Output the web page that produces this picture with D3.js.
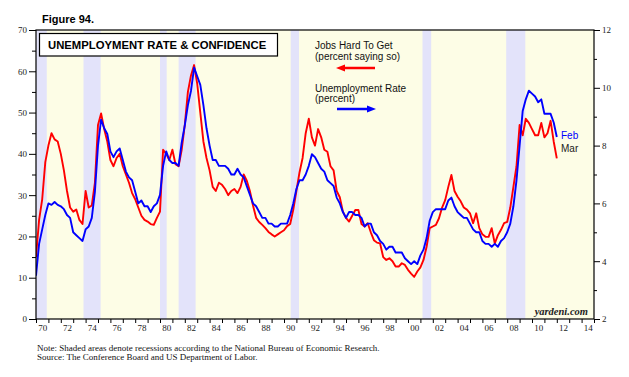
<!DOCTYPE html>
<html>
<head>
<meta charset="utf-8">
<script src="https://cdn.jsdelivr.net/npm/d3@7/dist/d3.min.js"></script>
<style>
  body { margin: 0; background: #fff; }
  .ax text { font-family: "Liberation Serif", "Times New Roman", serif; font-size: 9px; fill: #222; }
  .ax line { stroke: #000; }
  .ax path { display: none; }
</style>
</head>
<body>
<script>
// quarterly observations, first one is Q1 1970, last one Q1 2012
var startYear = 1970;

// Jobs Hard To Get (percent saying so), left axis
var jobsHardToGet = [
  15, 24, 29, 38,      42, 45, 43.5, 43,    40, 36, 31, 27,      26, 26.5, 24, 23,
  31, 27, 27.5, 33,    47, 49.8, 46, 43,    38.5, 37, 39, 40,    37, 35, 33, 30.5,
  29, 27, 25, 24,      23.6, 23, 22.8, 24.5, 26, 41, 40, 38.5,  41, 37.5, 37, 41,
  47, 55, 59, 61.5,    57, 50, 43, 39,      36, 32, 31, 33,      32.5, 31.5, 30, 31,
  31.5, 30.5, 32, 35,  33.5, 31, 27.5, 24.5, 23.5, 22.8, 22, 21.1, 20.5, 20, 20.5, 21,
  21.5, 22.5, 23, 26.5, 31, 35.5, 39, 45,   48.5, 44, 42, 46,    44, 41, 40.5, 37,
  36, 31, 29.5, 26,    24.5, 23.6, 25, 26.4, 26.4, 23, 22.4, 23.2, 21, 19.1, 18.5, 18.3,
  15, 14.3, 14.7, 14,  12.7, 12.7, 13.5, 13.1, 11.9, 11, 10.2, 11.5, 12.5, 14.3, 17.5, 22,
  22.4, 22.8, 24.4, 27, 28.8, 32, 34.9, 31, 29.6, 28.5, 27, 26.5, 25.6, 23.2, 25.6, 22,
  20.5, 19.9, 19.9, 22, 18.3, 20.3, 21.6, 23.2, 23.5, 27, 32, 37, 47, 44.5, 48.5, 47.5,
  46, 44.5, 44.5, 47.5, 44, 45, 48, 43,    38.9
];

// Unemployment Rate (percent), right axis
var unemploymentRate = [
  3.5, 4.6, 5.1, 5.6,  6.0, 5.95, 6.05, 5.95, 5.9, 5.8, 5.6, 5.5, 5.0, 4.9, 4.8, 4.7,
  5.1, 5.2, 5.5, 6.4,  8.0, 8.9, 8.6, 8.4,  7.8, 7.6, 7.8, 7.9,  7.5, 7.1, 6.9, 6.8,
  6.4, 6.0, 6.1, 5.9,  5.9, 5.7, 5.9, 6.0,  6.3, 7.3, 7.8, 7.5,  7.4, 7.4, 7.3, 8.1,
  8.7, 9.4, 9.9, 10.7, 10.4, 10.1, 9.4, 8.6, 8.0, 7.5, 7.5, 7.3, 7.3, 7.3, 7.2, 7.0,
  7.0, 7.2, 7.0, 6.9,  6.6, 6.3, 6.0, 5.9,  5.7, 5.5, 5.5, 5.3,  5.3, 5.2, 5.2, 5.3,
  5.3, 5.3, 5.6, 6.0,  6.5, 6.8, 6.8, 7.0,  7.3, 7.7, 7.6, 7.4,  7.2, 7.1, 6.8, 6.7,
  6.6, 6.2, 6.0, 5.7,  5.5, 5.7, 5.7, 5.6,  5.6, 5.5, 5.2, 5.3,  5.3, 5.0, 4.9, 4.7,
  4.6, 4.4, 4.5, 4.5,  4.3, 4.3, 4.3, 4.1,  4.0, 3.9, 4.0, 3.9,  4.2, 4.4, 4.8, 5.4,
  5.7, 5.8, 5.8, 5.8,  5.8, 6.1, 6.2, 5.9,  5.7, 5.6, 5.5, 5.5,  5.3, 5.1, 5.0, 5.0,
  4.7, 4.6, 4.6, 4.5,  4.6, 4.5, 4.7, 4.8,  5.0, 5.3, 5.9, 6.8,  8.0, 9.2, 9.6, 9.9,
  9.8, 9.7, 9.5, 9.6,  9.1, 9.1, 9.1, 8.8,  8.3
];

// NBER recessions [start, end] in decimal years
var recessions = [
  [1969.92, 1970.87], [1973.83, 1975.21], [1980.0, 1980.54], [1981.5, 1982.87],
  [1990.54, 1991.21], [2001.17, 2001.87], [2007.92, 2009.46]
];

var leftMajor = [0, 10, 20, 30, 40, 50, 60, 70];
var leftMinor = [5, 15, 25, 35, 45, 55, 65];
var rightMajor = [2, 4, 6, 8, 10, 12];
var rightMinor = [3, 5, 7, 9, 11];
var yearTicks = d3.range(1970, 2016);
var yearLabels = d3.range(1970, 2015, 2);

var svgWidth = 629;
var svgHeight = 377;
var margin = { top: 30, right: 35, bottom: 58, left: 36 };
var width = svgWidth - margin.left - margin.right;
var height = svgHeight - margin.top - margin.bottom;

var svg = d3.select("body")
  .append("svg")
  .attr("width", svgWidth)
  .attr("height", svgHeight);

var x = d3.scaleLinear().domain([1970, 2015]).range([0, width]);
var yLeft = d3.scaleLinear().domain([0, 70]).range([height, 0]);
var yRight = d3.scaleLinear().domain([2, 12]).range([height, 0]);

var chartGroup = svg.append("g")
  .attr("transform", `translate(${margin.left}, ${margin.top})`);

svg.append("defs").append("clipPath").attr("id", "plot")
  .append("rect").attr("width", width).attr("height", height);

// background and recession bands
chartGroup.append("rect")
  .attr("width", width).attr("height", height)
  .attr("fill", "#fdfde6");

chartGroup.append("g").attr("clip-path", "url(#plot)")
  .selectAll("rect").data(recessions).enter()
  .append("rect")
  .attr("x", d => x(d[0]))
  .attr("width", d => x(d[1]) - x(d[0]))
  .attr("y", 0).attr("height", height)
  .attr("fill", "#e3e3fa");

// lines
var lineLeft = d3.line()
  .x((d, i) => x(startYear + i / 4))
  .y(d => yLeft(d));
var lineRight = d3.line()
  .x((d, i) => x(startYear + i / 4))
  .y(d => yRight(d));

var lines = chartGroup.append("g").attr("clip-path", "url(#plot)");
lines.append("path").datum(jobsHardToGet)
  .attr("d", lineLeft).attr("fill", "none")
  .attr("stroke", "#ff0000").attr("stroke-width", 1.9).attr("stroke-linejoin", "round");
lines.append("path").datum(unemploymentRate)
  .attr("d", lineRight).attr("fill", "none")
  .attr("stroke", "#0000ff").attr("stroke-width", 1.9).attr("stroke-linejoin", "round");

// frame
chartGroup.append("rect")
  .attr("width", width).attr("height", height)
  .attr("fill", "none").attr("stroke", "#000").attr("stroke-width", 1.2);

// axes
chartGroup.append("g").attr("class", "ax")
  .call(d3.axisLeft(yLeft).tickValues(leftMajor).tickSize(7).tickPadding(2));
chartGroup.append("g").attr("class", "ax")
  .call(d3.axisLeft(yLeft).tickValues(leftMinor).tickSize(4).tickFormat(""));

chartGroup.append("g").attr("class", "ax")
  .attr("transform", `translate(${width}, 0)`)
  .call(d3.axisRight(yRight).tickValues(rightMajor).tickSize(6).tickPadding(2));
chartGroup.append("g").attr("class", "ax")
  .attr("transform", `translate(${width}, 0)`)
  .call(d3.axisRight(yRight).tickValues(rightMinor).tickSize(3).tickFormat(""));

chartGroup.append("g").attr("class", "ax")
  .attr("transform", `translate(0, ${height})`)
  .call(d3.axisBottom(x).tickValues(yearTicks).tickSize(4).tickFormat(""));
chartGroup.append("g").attr("class", "ax")
  .attr("transform", `translate(0, ${height})`)
  .call(d3.axisBottom(x).tickValues(yearLabels.map(d => d + 0.5)).tickSize(0).tickPadding(6)
    .tickFormat(d => String(Math.floor(d) % 100).padStart(2, "0")));

// titles
svg.append("text")
  .attr("x", 42).attr("y", 23)
  .style("font-family", "'Liberation Sans', Arial, sans-serif")
  .style("font-size", "11px").style("font-weight", "bold")
  .text("Figure 94.");

svg.append("rect")
  .attr("x", 39.5).attr("y", 33.5).attr("width", 238).attr("height", 22.5)
  .attr("fill", "#fff").attr("stroke", "#000").attr("stroke-width", 1.2);
svg.append("text")
  .attr("x", 48).attr("y", 49)
  .style("font-family", "'Liberation Sans', Arial, sans-serif")
  .style("font-size", "11.3px").style("font-weight", "bold")
  .text("UNEMPLOYMENT RATE & CONFIDENCE");

// legend
var sans = "'Liberation Sans', Arial, sans-serif";
var legend = svg.append("g").style("font-family", sans).style("font-size", "10px").attr("fill", "#111");
legend.append("text").attr("x", 315).attr("y", 49).text("Jobs Hard To Get");
legend.append("text").attr("x", 315).attr("y", 60).text("(percent saying so)");
legend.append("text").attr("x", 315).attr("y", 92).text("Unemployment Rate");
legend.append("text").attr("x", 315).attr("y", 102).text("(percent)");

legend.append("line").attr("x1", 343).attr("x2", 375).attr("y1", 68).attr("y2", 68)
  .attr("stroke", "#ff0000").attr("stroke-width", 2.5);
legend.append("path").attr("d", "M336,68 L345,64.5 L345,71.5 Z").attr("fill", "#ff0000");
legend.append("line").attr("x1", 337).attr("x2", 369).attr("y1", 109).attr("y2", 109)
  .attr("stroke", "#0000ff").attr("stroke-width", 2.5);
legend.append("path").attr("d", "M376,109 L367,105.5 L367,112.5 Z").attr("fill", "#0000ff");

// end labels
svg.append("text").attr("x", 561).attr("y", 139)
  .style("font-family", sans).style("font-size", "10px").attr("fill", "#0000ff").text("Feb");
svg.append("text").attr("x", 561).attr("y", 152)
  .style("font-family", sans).style("font-size", "10px").attr("fill", "#222").text("Mar");

// watermark
svg.append("text").attr("x", 588).attr("y", 315).attr("text-anchor", "end")
  .style("font-family", "'Liberation Serif', 'Times New Roman', serif")
  .style("font-size", "10.5px").style("font-weight", "bold").style("font-style", "italic")
  .attr("fill", "#222").text("yardeni.com");

// notes
var serif = "'Liberation Serif', 'Times New Roman', serif";
svg.append("text").attr("x", 37).attr("y", 351)
  .style("font-family", serif).style("font-size", "9px").attr("fill", "#111")
  .text("Note: Shaded areas denote recessions according to the National Bureau of Economic Research.");
svg.append("text").attr("x", 37).attr("y", 360)
  .style("font-family", serif).style("font-size", "9px").attr("fill", "#111")
  .text("Source: The Conference Board and US Department of Labor.");
</script>
</body>
</html>
